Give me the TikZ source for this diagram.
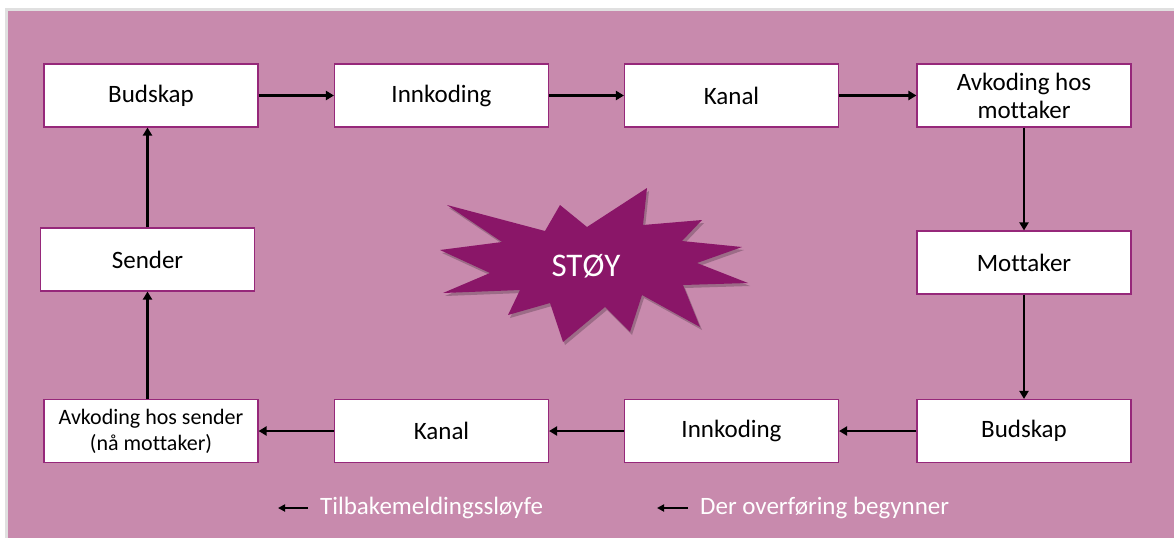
\documentclass[tikz,border=0pt]{standalone}
\usepackage{fontspec}
\setmainfont[Ligatures=CommonOff]{Carlito}
\usetikzlibrary{arrows.meta}
\definecolor{slidebg}{RGB}{200,138,173}
\definecolor{boxline}{RGB}{150,40,122}
\definecolor{starfill}{RGB}{138,22,104}
\tikzset{
  stagebox/.style={draw=boxline, line width=1.1pt, fill=white,
    minimum width=214pt, minimum height=63pt, inner sep=2pt,
    align=center, font=\fontsize{25}{28}\selectfont},
  smallstage/.style={stagebox, font=\fontsize{22}{26}\selectfont},
  flow/.style={line width=2.4pt, -{Triangle[length=8pt,width=9pt]}},
  keyarrow/.style={line width=1.8pt, -{Triangle[length=7pt,width=7pt]}},
  keytext/.style={text=white, anchor=west, inner sep=0pt,
    font=\fontsize{25}{28}\selectfont}
}
\begin{document}
\begin{tikzpicture}[x=1pt,y=-1pt]
\useasboundingbox (0,0) rectangle (1174,538);
% slide background with a faint edge shadow
\fill[white] (0,0) rectangle (1174,538);
\fill[black!12] (5,8) rectangle (1174,538);
\fill[slidebg] (8,11) rectangle (1174,538);

% noise burst in the middle
\def\burst{(447,205) -- (545,231) -- (560,205) -- (587,227) -- (647,188)
  -- (643,225) -- (702,220) -- (682,241) -- (742,247) -- (697,263)
  -- (748,283) -- (683,285) -- (700,327) -- (642,295) -- (630,332)
  -- (605,307) -- (563,342) -- (550,303) -- (508,315) -- (520,290)
  -- (443,293) -- (490,273) -- (440,250) -- (502,242) -- cycle}
\fill[black, opacity=0.22, shift={(2,3)}] \burst;
\fill[starfill] \burst;
\node[text=white, font=\fontsize{33}{36}\selectfont] (noise) at (586,266) {STØY};

% forward chain
\node[stagebox] (msg1) at (151,95.5) {Budskap};
\node[stagebox] (enc1) at (441.5,95.5) {Innkoding};
\node[stagebox] (chan1) at (731.5,95.5) {Kanal};
\node[stagebox] (dec1) at (1024,95.5) {Avkoding hos\\mottaker};
\node[stagebox] (recv) at (1024,262.5) {Mottaker};
% feedback chain
\node[stagebox] (msg2) at (1024,431) {Budskap};
\node[stagebox] (enc2) at (731.5,431) {Innkoding};
\node[stagebox] (chan2) at (441.5,431) {Kanal};
\node[smallstage] (dec2) at (151,431) {Avkoding hos sender\\(nå mottaker)};
\node[stagebox] (send) at (147.5,259.5) {Sender};

\draw[flow] (msg1) -- (enc1);
\draw[flow] (enc1) -- (chan1);
\draw[flow] (chan1) -- (dec1);
\draw[flow] (dec1) -- (recv);
\draw[flow] (recv) -- (msg2);
\draw[flow] (msg2) -- (enc2);
\draw[flow] (enc2) -- (chan2);
\draw[flow] (chan2) -- (dec2);
\draw[flow] (dec2.north -| send) -- (send);
\draw[flow] (send) -- (send |- msg1.south);

% legend
\coordinate (keyAfrom) at (308,508);
\coordinate (keyAto) at (278,508);
\coordinate (keyBfrom) at (688,508);
\coordinate (keyBto) at (657,508);
\draw[keyarrow] (keyAfrom) -- (keyAto);
\draw[keyarrow] (keyBfrom) -- (keyBto);
\node[keytext] (keyA) at (320,508) {Tilbakemeldingssløyfe};
\node[keytext] (keyB) at (700,508) {Der overføring begynner};
\end{tikzpicture}
\end{document}
